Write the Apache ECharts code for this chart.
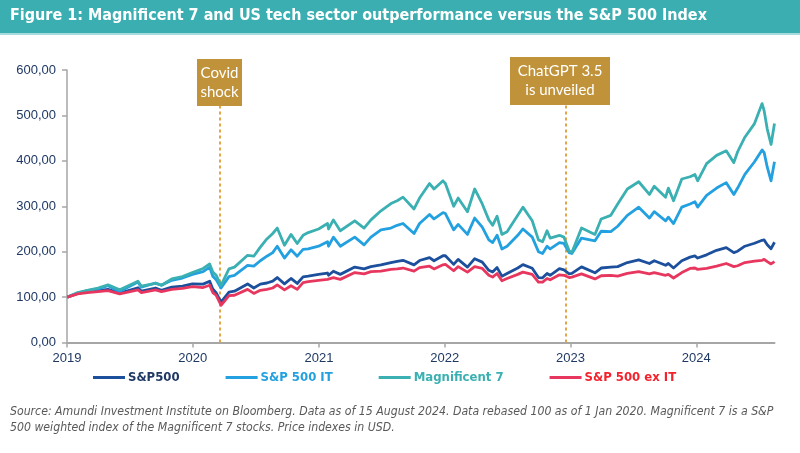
<!DOCTYPE html>
<html>
<head>
<meta charset="utf-8">
<script src="https://cdn.jsdelivr.net/npm/echarts@6/dist/echarts.min.js"></script>
<style>
html,body{margin:0;padding:0;background:#fff;}
#chart{width:800px;height:453px;}
</style>
</head>
<body>
<div id="chart"></div>
<script>
// ---- Data ----
const dates = [
'2019-01-02','2019-02-01','2019-03-01','2019-04-01','2019-04-30','2019-06-03','2019-07-26','2019-08-05',
'2019-09-15','2019-10-02','2019-11-01','2019-12-02','2019-12-31','2020-01-31','2020-02-19','2020-02-28',
'2020-03-09','2020-03-23','2020-04-15','2020-05-01','2020-06-08','2020-06-26','2020-07-15','2020-08-03',
'2020-08-20','2020-09-02','2020-09-23','2020-10-12','2020-10-30','2020-11-16','2020-12-01','2020-12-31',
'2021-01-26','2021-01-29','2021-02-12','2021-03-04','2021-04-15','2021-05-12','2021-06-01','2021-06-30',
'2021-07-29','2021-08-16','2021-09-02','2021-10-04','2021-10-20','2021-11-18','2021-12-01','2021-12-27',
'2022-01-03','2022-01-27','2022-02-09','2022-03-08','2022-03-29','2022-04-20','2022-05-09','2022-05-20',
'2022-06-02','2022-06-16','2022-07-01','2022-08-01','2022-08-16','2022-09-12','2022-09-30','2022-10-12',
'2022-10-25','2022-11-03','2022-11-30','2022-12-13','2022-12-28','2023-01-05','2023-02-02','2023-03-13',
'2023-03-31','2023-04-28','2023-05-18','2023-06-15','2023-07-18','2023-08-18','2023-09-01','2023-10-04',
'2023-10-12','2023-10-27','2023-11-20','2023-12-14','2023-12-28','2024-01-05','2024-01-31','2024-02-29',
'2024-03-28','2024-04-19','2024-04-30','2024-05-21','2024-06-18','2024-07-10','2024-07-16','2024-07-25',
'2024-08-05','2024-08-15'
];
const sp500 = [
100,108,112,114,117,109,120.5,113,
120,115,122,124,129,128.5,135,118,
109,89,111,113,129,120,128.5,131,
135,143,129,141,130,144.5,146,150,
153,148,157,150,166,162,167,171,
176,178.5,181,171,180.5,187,180,191,
191,172,183,166,184.5,177,159,155,
165,146,152,164,171.5,163.5,143,142.5,
152,148,162.5,160,151,152,166.5,153.5,
164,166,167,176,182,174,180,170,
174,164,180,188,190.5,186,193,203,
209,198,201,212,218.6,225,225.8,215,
206.6,220.8
];
const sp500IT = [
100,109,114,118,125,112,133,122,
131,126,137,142,150,156,166,146,
138,120,145,148,170,168,180,190,
198,212,186,204,190,205,206,212,
222,212,232,212,232,215,232,248,
252,258,262,240,262,282,272,286,
284,248,260,238,274,254,226,220,
236,206,212,236,250,232,200,196,
212,206,220,218,198,196,230,224,
245,244,256,280,298,274,288,268,
276,262,298,305,310,298,324,340,
352,326,340,370,398,424,418,386,
356,398
];
const mag7 = [
100,110,115,120,127,116,135,124,
130,126,140,145,154,163,173,155,
148,126,162,166,192,190,210,228,
240,252,214,238,218,236,242,250,
262,250,270,246,268,252,270,290,
306,312,320,294,318,350,338,356,
350,300,318,288,338,305,270,258,
278,238,244,280,298,268,226,222,
246,230,236,232,202,198,252,238,
272,280,305,338,354,326,344,320,
340,312,360,365,370,356,394,412,
422,396,420,452,482,526,510,470,
436,482
];
const sp500exIT = [
100,107,110,112,114,107,116,110,
116,112,117,119,123,121,126,110,
104,82,103,104,117,108,115,117,
120,127,116,125,117,132,134,137,
139,135,143,139,154,151,156,157,
161,162,164,157,165,168,162,171,
172,158,167,155,167,163,148,144,
152,136,141,150,155,150,133,133,
141,138,149,148,143,144,151,140,
147,148,146,152,156,151,154,148,
150,142,154,163,164,161,163,168,
174,167,169,176,179,181,183,178,
173,178
];
const seriesNames = ['S&P500', 'S&P 500 IT', 'Magnificent 7', 'S&P 500 ex IT'];
const yTicks = [0, 100, 200, 300, 400, 500, 600];
const eventDates = ['2020-03-20', '2022-12-18'];
const eventLabels = ['Covid\nshock', 'ChatGPT 3.5\nis unveiled'];
const titleText = 'Figure 1: Magnificent 7 and US tech sector outperformance versus the S&P 500 Index';
const footerLines = [
 'Source: Amundi Investment Institute on Bloomberg. Data as of 15 August 2024. Data rebased 100 as of 1 Jan 2020. Magnificent 7 is a S&P',
 '500 weighted index of the Magnificent 7 stocks. Price indexes in USD.'
];

// ---- Styles ----
const lineColors = ['#1C4F9C', '#22A0E0', '#3AB0B2', '#E8375F'];
const legendTextColors = ['#1F3864', '#22A0E0', '#3AB0B2', '#F5222D'];
const narrow = "'Liberation Sans Narrow','Arial Narrow','DejaVu Sans Condensed',sans-serif";
const axisFont = "'Liberation Sans',Arial,sans-serif";
const axisGray = '#A6A6A6';
const navyText = '#1F3864';

const allValues = [sp500, sp500IT, mag7, sp500exIT];
const series = allValues.map((vals, i) => ({
  name: seriesNames[i],
  type: 'line',
  data: dates.map((d, k) => [d, vals[k]]),
  showSymbol: false,
  symbol: 'none',
  smooth: false,
  lineStyle: { color: lineColors[i], width: 2.8, join: 'round' },
  itemStyle: { color: lineColors[i] },
  z: 2 + i,
  animation: false
}));
series[0].markLine = {
  silent: true,
  symbol: 'none',
  label: { show: false },
  lineStyle: { color: '#E3A646', type: [3, 3], width: 2 },
  data: eventDates.map(d => ({ xAxis: d })),
  z: 1
};

const chart = echarts.init(document.getElementById('chart'), null, { renderer: 'canvas' });
chart.setOption({
  animation: false,
  backgroundColor: '#ffffff',
  grid: { left: 67, right: 25.5, top: 70, bottom: 110.5 },
  xAxis: {
    type: 'time',
    min: '2019-01-01',
    max: '2024-08-15',
    minInterval: 365 * 86400000,
    maxInterval: 366 * 86400000,
    axisLine: { show: true, lineStyle: { color: axisGray, width: 2 } },
    axisTick: { show: true, length: 5, lineStyle: { color: axisGray, width: 1.5 } },
    splitLine: { show: false },
    axisLabel: {
      formatter: '{yyyy}', color: navyText, fontSize: 13, fontFamily: axisFont, margin: 9,
      showMinLabel: true, showMaxLabel: false
    }
  },
  yAxis: {
    type: 'value',
    min: yTicks[0],
    max: yTicks[yTicks.length - 1],
    interval: 100,
    axisLine: { show: true, lineStyle: { color: axisGray, width: 1.5 } },
    axisTick: { show: true, length: 5, lineStyle: { color: axisGray, width: 1.5 } },
    splitLine: { show: false },
    axisLabel: {
      formatter: v => v.toFixed(2).replace('.', ','),
      color: navyText, fontSize: 13, fontFamily: axisFont, margin: 11
    }
  },
  legend: {
    left: 88,
    top: 366,
    itemWidth: 32,
    itemHeight: 3,
    itemGap: 46,
    icon: 'rect',
    textStyle: { fontFamily: narrow, fontWeight: 'bold', fontSize: 13, padding: [0, 0, 0, -2] },
    data: seriesNames.map((n, i) => ({ name: n, textStyle: { color: legendTextColors[i] } }))
  },
  series: series,
  graphic: [
    { type: 'rect', left: 0, top: 0, shape: { width: 800, height: 33 }, style: { fill: '#3BAEB1' }, z: 10 },
    { type: 'rect', left: 0, top: 33, shape: { width: 800, height: 2 }, style: { fill: '#A8DCDC' }, z: 10 },
    { type: 'text', left: 10, top: 8, style: { text: titleText, fill: '#ffffff', font: "bold 16px " + narrow }, z: 11 },
    { type: 'rect', left: 197, top: 59, shape: { width: 45, height: 47 }, style: { fill: '#C09239' }, z: 20 },
    { type: 'text', x: 219.5, y: 82.5, style: { text: eventLabels[0], fill: '#ffffff', font: "15px Lato,'Open Sans',sans-serif", align: 'center', verticalAlign: 'middle', lineHeight: 19 }, z: 21 },
    { type: 'rect', left: 510, top: 57, shape: { width: 100, height: 48 }, style: { fill: '#C09239' }, z: 20 },
    { type: 'text', x: 560, y: 81, style: { text: eventLabels[1], fill: '#ffffff', font: "15px Lato,'Open Sans',sans-serif", align: 'center', verticalAlign: 'middle', lineHeight: 19 }, z: 21 },
    { type: 'text', left: 10, top: 406, style: { text: footerLines[0], fill: '#595959', font: "italic 12.2px " + narrow }, z: 10 },
    { type: 'text', left: 10, top: 422, style: { text: footerLines[1], fill: '#595959', font: "italic 12.2px " + narrow }, z: 10 }
  ]
});
</script>
</body>
</html>
